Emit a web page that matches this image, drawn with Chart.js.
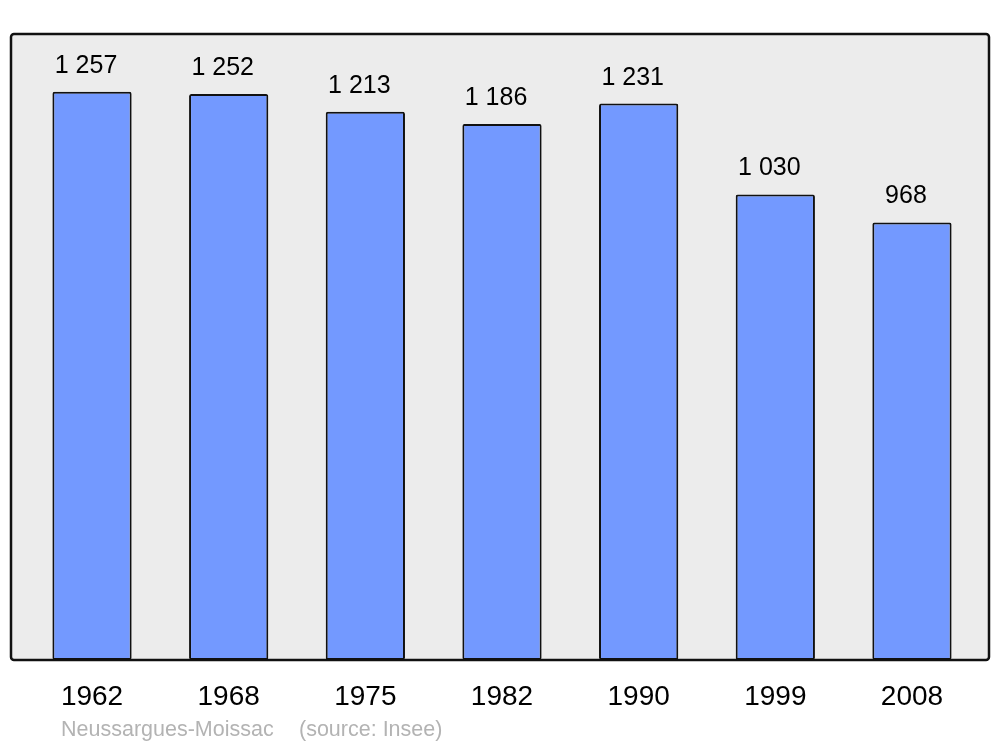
<!DOCTYPE html>
<html>
<head>
<meta charset="utf-8">
<script src="https://cdn.jsdelivr.net/npm/chart.js@4/dist/chart.umd.min.js"></script>
<style>
  html, body { margin: 0; padding: 0; background: #fff; }
  #wrap { width: 1000px; height: 747px; }
</style>
</head>
<body>
<div id="wrap"><canvas id="grafico" width="1000" height="747"></canvas></div>
<script>
// donnees
const annees = ["1962", "1968", "1975", "1982", "1990", "1999", "2008"];
const population = [1257, 1252, 1213, 1186, 1231, 1030, 968];
const yMax = 1385;
const commune = "Neussargues-Moissac";
const source = "(source: Insee)";

function formatarValor(v) {
    const s = String(v);
    return s.length > 3 ? s.slice(0, s.length - 3) + " " + s.slice(-3) : s;
}

// fond gris + cadre arrondi
const cadrePlugin = {
    id: "cadre",
    beforeDraw(chart) {
        const ctx = chart.ctx;
        const a = chart.chartArea;
        const x = a.left - 12.7, y = a.top, w = (a.right + 8.7) - x, h = a.bottom - a.top;
        ctx.save();
        ctx.beginPath();
        ctx.roundRect(x, y, w, h, 3);
        ctx.fillStyle = "#ececec";
        ctx.fill();
        ctx.restore();
    },
    afterDatasetsDraw(chart) {
        const ctx = chart.ctx;
        const a = chart.chartArea;
        const x = a.left - 12.7, y = a.top, w = (a.right + 8.7) - x, h = a.bottom - a.top;
        ctx.save();
        ctx.beginPath();
        ctx.roundRect(x, y, w, h, 3);
        ctx.lineWidth = 2.5;
        ctx.strokeStyle = "#111";
        ctx.stroke();

        // valeurs au-dessus des barres
        const meta = chart.getDatasetMeta(0);
        ctx.fillStyle = "#000";
        ctx.font = "25px 'Liberation Sans', Arial, sans-serif";
        ctx.textAlign = "center";
        ctx.textBaseline = "alphabetic";
        meta.data.forEach((bar, i) => {
            ctx.fillText(formatarValor(population[i]), bar.x - 6, bar.y - 19);
        });

        // source
        ctx.fillStyle = "#b3b3b3";
        ctx.font = "21.5px 'Liberation Sans', Arial, sans-serif";
        ctx.textAlign = "left";
        ctx.fillText(commune, 61, 736);
        ctx.fillText(source, 299, 736);
        ctx.restore();
    }
};

var ctx = document.getElementById("grafico").getContext("2d");
var myChart = new Chart(ctx, {
    type: "bar",
    data: {
        labels: annees,
        datasets: [
            {
                label: "Population",
                data: population,
                backgroundColor: "#7399ff",
                borderColor: "#111",
                borderWidth: 2,
                borderRadius: 2,
                borderSkipped: false,
                barPercentage: 0.58,
                categoryPercentage: 1
            }
        ]
    },
    options: {
        responsive: false,
        animation: false,
        layout: {
            padding: { left: 23.7, right: 19.7, top: 34, bottom: 13.4 }
        },
        plugins: {
            legend: { display: false },
            tooltip: { enabled: false }
        },
        scales: {
            x: {
                grid: { display: false, drawTicks: false },
                border: { display: false },
                ticks: {
                    color: "#000",
                    padding: 20,
                    font: { family: "'Liberation Sans', Arial, sans-serif", size: 28 }
                }
            },
            y: {
                display: false,
                beginAtZero: true,
                min: 0,
                max: yMax
            }
        }
    },
    plugins: [cadrePlugin]
});
</script>
</body>
</html>
